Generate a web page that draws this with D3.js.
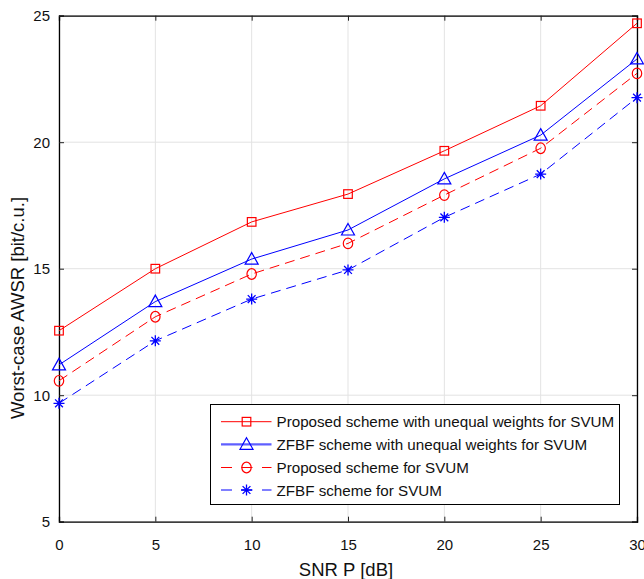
<!DOCTYPE html>
<html><head><meta charset="utf-8">
<script src="https://cdn.jsdelivr.net/npm/d3@7"></script>
<style>body{margin:0;background:#fff}svg{display:block;font-family:"Liberation Sans",Arial,sans-serif}</style>
</head><body>
<svg id="c" width="644" height="579"></svg>
<script>
const snr = [0, 5, 10, 15, 20, 25, 30];
const proposedUnequal = [12.55, 15.0, 16.85, 17.95, 19.66, 21.44, 24.7];
const zfbfUnequal = [11.2, 13.7, 15.38, 16.53, 18.55, 20.28, 23.29];
const proposed = [10.57, 13.1, 14.79, 16.0, 17.91, 19.76, 22.72];
const zfbf = [9.68, 12.15, 13.8, 14.95, 17.03, 18.74, 21.76];
const xTicks = [0, 5, 10, 15, 20, 25, 30];
const yTicks = [5, 10, 15, 20, 25];
const seriesNames = ["Proposed scheme with unequal weights for SVUM","ZFBF scheme with unequal weights for SVUM","Proposed scheme for SVUM","ZFBF scheme for SVUM"];

const series = [
  {name: seriesNames[0], values: proposedUnequal, color: "#ff0000", dash: null, marker: "square"},
  {name: seriesNames[1], values: zfbfUnequal, color: "#0000ff", dash: null, marker: "triangle"},
  {name: seriesNames[2], values: proposed, color: "#ff0000", dash: "10,6", marker: "circle"},
  {name: seriesNames[3], values: zfbf, color: "#0000ff", dash: "10,6", marker: "star"}
];

const L = 59, R = 637, T = 15.7, B = 521.7;
const svg = d3.select("#c");
const x = d3.scaleLinear().domain([0, 30]).range([L, R]);
const y = d3.scaleLinear().domain([5, 25]).range([B, T]);

// grid
const g = svg.append("g");
g.selectAll(".gx").data(xTicks).join("line").attr("x1", d => x(d)).attr("x2", d => x(d)).attr("y1", T).attr("y2", B).attr("stroke", "#e3e3e3").attr("stroke-width", 1);
g.selectAll(".gy").data(yTicks).join("line").attr("y1", d => y(d)).attr("y2", d => y(d)).attr("x1", L).attr("x2", R).attr("stroke", "#e3e3e3").attr("stroke-width", 1);

// axes
const fs = "15px";
const xb = svg.append("g").attr("transform", `translate(0,${B})`).call(d3.axisBottom(x).tickValues(xTicks).tickSize(-5).tickPadding(18));
const xt = svg.append("g").attr("transform", `translate(0,${T})`).call(d3.axisTop(x).tickValues(xTicks).tickSize(-5).tickFormat(""));
const yl = svg.append("g").attr("transform", `translate(${L},0)`).call(d3.axisLeft(y).tickValues(yTicks).tickSize(-5).tickPadding(9));
const yr = svg.append("g").attr("transform", `translate(${R},0)`).call(d3.axisRight(y).tickValues(yTicks).tickSize(-5).tickFormat(""));
[xb, xt, yl, yr].forEach(a => {
  a.select(".domain").attr("stroke", "#000").attr("stroke-width", 1.3);
  a.selectAll(".tick line").attr("stroke", "#222").attr("stroke-width", 1);
  a.selectAll("text").attr("font-size", fs).attr("fill", "#111").attr("font-family", "'Liberation Sans',Arial,sans-serif");
});

// labels
svg.append("text").attr("x", 346).attr("y", 576).attr("text-anchor", "middle").attr("font-size", "18.5px").attr("fill", "#111").text("SNR P [dB]");
svg.append("text").attr("transform", `translate(23.5,308) rotate(-90)`).attr("text-anchor", "middle").attr("font-size", "18.5px").attr("fill", "#111").text("Worst-case AWSR [bit/c.u.]");

function drawMarker(sel, type, color) {
  if (type === "square") {
    sel.append("rect").attr("x", -4.3).attr("y", -4.3).attr("width", 8.6).attr("height", 8.6).attr("fill", "none").attr("stroke", color).attr("stroke-width", 1.2);
  } else if (type === "triangle") {
    sel.append("path").attr("d", "M0,-6.5L6.5,5L-6.5,5Z").attr("fill", "none").attr("stroke", color).attr("stroke-width", 1.2);
  } else if (type === "circle") {
    sel.append("ellipse").attr("rx", 4.7).attr("ry", 5.3).attr("fill", "none").attr("stroke", color).attr("stroke-width", 1.2);
  } else if (type === "star") {
    sel.append("path").attr("d", "M0,-5.5V5.5M-5.5,0H5.5M-3.9,-3.9L3.9,3.9M-3.9,3.9L3.9,-3.9").attr("fill", "none").attr("stroke", color).attr("stroke-width", 1.3);
  }
}

const line = d3.line().x((d, i) => x(snr[i])).y(d => y(d));
series.forEach(s => {
  svg.append("path").datum(s.values).attr("d", line).attr("fill", "none").attr("stroke", s.color).attr("stroke-width", 1).attr("stroke-dasharray", s.dash);
  svg.append("g").selectAll("g").data(s.values).join("g")
    .attr("transform", (d, i) => `translate(${x(snr[i])},${y(d)})`)
    .each(function () { drawMarker(d3.select(this), s.marker, s.color); });
});

// legend
const lg = svg.append("g");
lg.append("rect").attr("x", 210.5).attr("y", 404.5).attr("width", 409).attr("height", 100).attr("fill", "#fff").attr("stroke", "#000").attr("stroke-width", 1);
series.forEach((s, i) => {
  const yy = [421.7, 444.3, 467.5, 490][i];
  const thick = i === 1;
  lg.append("line").attr("x1", 221).attr("x2", 271.5).attr("y1", yy).attr("y2", yy)
    .attr("stroke", thick ? "#5f5fff" : s.color).attr("stroke-width", thick ? 2.2 : 1)
    .attr("stroke-dasharray", s.dash ? "11,9.5" : null);
  drawMarker(lg.append("g").attr("transform", `translate(246.5,${yy})`), s.marker, s.color);
  lg.append("text").attr("x", 276.5).attr("y", yy + 5.5).attr("font-size", "15.2px").attr("fill", "#111").text(s.name);
});
</script>
</body></html>
